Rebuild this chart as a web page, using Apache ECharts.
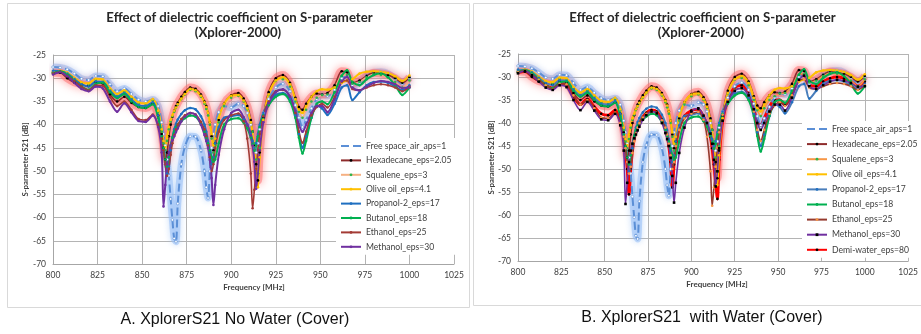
<!DOCTYPE html>
<html><head><meta charset="utf-8">
<script src="https://cdn.jsdelivr.net/npm/echarts@6/dist/echarts.min.js"></script>
<style>html,body{margin:0;padding:0;background:#fff}#c{width:921px;height:334px}</style>
</head><body><div id="c"></div>
<script>
// ---------------- data ----------------
const freq = [800,804,808,812,816,820,824,828,832,836,840,844,848,852,856,
  859,861,862,863,864,865,866,867,868,869,870,
  872,874,877,880,883,885,
  886,887,888,889,890,891,
  893,896,900,904,907,909,
  911,912,913,914,915,916,
  918,921,925,929,933,936,938,940,942,945,948,
  951,954,958,962,965,968,972,976,980,984,988,992,996,1000];

const freeSpace = [-27.6,-27.7,-28.1,-29.0,-30.1,-30.4,-29.5,-29.6,-31.3,-32.8,-32.2,-33.4,-34.6,-35.0,-34.6,
  -36.0,-39.5,-42.0,-44.5,-47.5,-51.0,-56.0,-60.5,-64.5,-65.2,-57.0,
  -48.5,-44.8,-42.5,-42.6,-45.5,-50.0,
  -53.5,-55.8,-50.0,-45.0,-42.0,-40.0,
  -37.3,-36.0,-36.3,-35.5,-36.0,-37.5,
  -40.0,-42.0,-44.5,-46.0,-44.0,-41.0,
  -37.5,-34.5,-32.0,-31.2,-32.8,-35.8,-38.5,-40.5,-39.0,-36.5,-34.5,
  -33.5,-33.8,-32.5,-30.0,-29.5,-31.5,-31.0,-29.5,-28.8,-28.6,-29.0,-30.2,-31.2,-30.0];

const hexadecane = [-28.8,-28.8,-30.0,-30.9,-31.3,-31.6,-30.8,-31.2,-33.5,-35.0,-34.0,-35.3,-36.2,-36.4,-35.5,
  -38.0,-42.0,-45.0,-47.5,-46.0,-42.5,-40.0,-38.3,-37.0,-36.0,-35.3,
  -34.0,-33.0,-32.0,-32.3,-33.5,-35.0,
  -36.0,-37.5,-39.5,-42.5,-45.5,-44.0,
  -39.0,-35.5,-33.7,-33.2,-34.4,-36.0,
  -39.0,-41.5,-44.5,-48.5,-52.0,-46.0,
  -38.5,-33.0,-30.0,-29.3,-31.0,-34.2,-36.2,-36.8,-35.5,-34.0,-33.3,
  -33.5,-33.2,-31.5,-28.5,-28.7,-31.0,-30.5,-29.5,-28.8,-29.0,-29.3,-30.0,-31.0,-29.8];

const squalene = [-28.7,-28.6,-29.0,-30.1,-31.1,-31.4,-30.4,-30.6,-32.5,-33.8,-32.9,-34.3,-35.5,-35.8,-34.8,
  -37.2,-41.5,-44.0,-45.5,-43.5,-41.0,-39.3,-38.2,-37.2,-36.4,-35.7,
  -34.5,-33.5,-32.5,-32.8,-34.0,-35.5,
  -36.6,-38.0,-40.0,-43.0,-46.0,-44.5,
  -39.5,-36.0,-34.2,-33.8,-35.0,-36.7,
  -39.5,-41.5,-44.0,-47.5,-50.5,-45.0,
  -38.8,-33.6,-30.6,-30.2,-31.8,-35.0,-37.2,-38.5,-36.8,-35.0,-34.2,
  -33.6,-33.5,-32.0,-29.5,-29.3,-31.2,-30.8,-29.8,-29.2,-29.3,-29.8,-30.8,-32.0,-30.5];

const oliveOil = [-28.5,-28.4,-28.8,-29.9,-30.9,-31.1,-30.1,-30.3,-32.2,-33.4,-32.6,-34.0,-35.2,-35.4,-34.5,
  -37.0,-41.0,-43.5,-44.8,-42.5,-40.5,-39.0,-38.0,-37.0,-36.3,-35.6,
  -34.4,-33.4,-32.3,-32.6,-33.8,-35.2,
  -36.2,-37.5,-39.5,-42.0,-44.5,-43.0,
  -38.5,-35.5,-33.8,-33.6,-34.8,-36.5,
  -39.5,-42.0,-45.0,-49.5,-53.5,-47.0,
  -39.0,-33.5,-30.5,-29.8,-31.3,-34.5,-36.8,-37.5,-36.0,-34.0,-32.8,
  -32.4,-32.5,-32.0,-31.0,-30.5,-30.2,-29.0,-28.6,-28.5,-28.6,-28.9,-29.6,-30.6,-29.4];

const propanol = [-28.4,-28.5,-29.0,-30.2,-31.3,-31.8,-30.7,-30.8,-32.7,-34.0,-33.2,-34.6,-35.8,-36.0,-35.2,
  -38.0,-42.5,-45.5,-48.5,-50.5,-49.0,-45.5,-42.8,-41.0,-39.8,-38.9,
  -37.7,-36.9,-36.4,-36.7,-38.2,-40.0,
  -41.5,-43.5,-46.0,-48.5,-47.0,-44.0,
  -40.5,-38.5,-38.2,-37.9,-38.8,-40.0,
  -42.0,-43.5,-45.0,-44.0,-42.0,-40.0,
  -37.5,-35.3,-33.6,-33.2,-34.5,-38.0,-42.0,-45.0,-42.5,-38.5,-36.0,
  -36.5,-37.9,-35.5,-32.0,-31.5,-34.7,-33.0,-31.5,-30.8,-30.7,-31.0,-31.8,-32.6,-31.5];

const butanol = [-29.0,-28.5,-29.2,-30.5,-31.8,-32.5,-31.2,-31.0,-33.0,-34.3,-33.4,-35.0,-36.2,-36.4,-35.6,
  -38.5,-42.5,-45.0,-47.5,-49.0,-47.0,-44.5,-42.8,-41.5,-40.6,-40.0,
  -39.2,-38.6,-38.0,-38.3,-39.8,-41.5,
  -42.8,-44.0,-45.5,-47.0,-48.0,-47.5,
  -44.0,-40.0,-38.8,-38.6,-39.6,-40.8,
  -42.8,-44.2,-45.6,-44.5,-42.5,-40.5,
  -38.0,-35.8,-34.0,-33.4,-35.0,-38.5,-42.8,-46.2,-43.5,-38.5,-35.5,
  -35.0,-35.6,-33.0,-29.5,-28.3,-30.8,-31.5,-30.2,-29.3,-29.0,-29.8,-31.5,-33.6,-32.0];

const ethanol = [-29.0,-28.6,-29.5,-30.6,-31.8,-32.6,-31.5,-31.6,-34.0,-36.0,-35.0,-36.8,-38.8,-39.0,-37.8,
  -40.0,-43.0,-45.5,-48.5,-51.0,-49.5,-46.5,-44.0,-42.3,-41.0,-40.0,
  -38.8,-38.0,-37.5,-37.8,-39.4,-41.0,
  -42.5,-44.5,-47.0,-50.0,-48.5,-45.0,
  -41.5,-39.0,-38.0,-37.6,-39.3,-43.0,
  -50.5,-58.0,-54.0,-49.5,-45.4,-42.0,
  -38.2,-35.0,-32.8,-32.5,-34.0,-37.5,-41.5,-43.9,-41.5,-38.0,-36.2,
  -35.5,-36.3,-34.0,-30.8,-30.5,-32.3,-32.6,-32.0,-31.5,-31.3,-31.5,-32.0,-32.8,-31.8];

const methanol = [-29.2,-28.7,-29.6,-31.0,-32.3,-32.8,-31.8,-32.2,-35.0,-37.2,-35.4,-37.3,-39.2,-39.4,-38.0,
  -40.5,-46.0,-57.6,-53.0,-48.5,-46.0,-44.5,-43.3,-42.5,-41.6,-40.8,
  -39.3,-38.3,-37.5,-37.9,-40.0,-42.2,
  -43.5,-45.0,-47.6,-51.5,-57.3,-53.0,
  -46.5,-41.0,-37.5,-36.8,-38.4,-40.0,
  -42.3,-44.5,-48.0,-53.8,-50.5,-45.5,
  -39.5,-35.4,-33.0,-32.4,-34.0,-37.0,-40.0,-41.5,-40.0,-37.5,-36.0,
  -36.0,-37.3,-34.5,-30.6,-29.7,-32.0,-32.6,-31.8,-31.0,-30.6,-30.8,-31.3,-32.1,-32.0];

const demiWater = [-29.0,-28.8,-29.8,-30.8,-31.8,-32.4,-31.4,-31.6,-34.2,-36.0,-34.8,-36.5,-38.0,-38.3,-37.2,
  -39.5,-43.0,-46.0,-50.0,-55.5,-50.0,-46.0,-43.5,-42.0,-40.8,-40.0,
  -38.7,-37.8,-37.2,-37.5,-39.2,-41.2,
  -42.8,-45.0,-48.5,-54.0,-49.0,-45.0,
  -41.0,-38.5,-37.3,-37.0,-38.6,-40.5,
  -43.0,-45.5,-49.0,-53.0,-56.5,-48.0,
  -39.5,-35.0,-32.3,-31.8,-33.6,-37.0,-39.5,-40.5,-39.0,-36.5,-35.0,
  -35.0,-36.0,-33.8,-30.0,-29.5,-31.8,-32.0,-31.0,-30.3,-30.0,-30.3,-31.0,-32.0,-31.0];

const xAxisRange = {min: 800, max: 1025, interval: 25};
const yAxisRange = {min: -70, max: -25, interval: 5};
const chartTitle = 'Effect of dielectric coefficient on S-parameter';
const chartSubtitle = '(Xplorer-2000)';
const xName = 'Frequency [MHz]';
const yName = 'S-parameter S21 [dB]';
const captionA = 'A. XplorerS21 No Water (Cover)';
const captionB = 'B. XplorerS21  with Water (Cover)';

// ---------------- styles ----------------
const FONT = 'Lato';
const FS_GLOW = {color:'rgba(150,190,245,0.55)', width:7, blur:6, shadow:'rgba(150,190,245,0.9)'};
const HX_GLOW = {color:'rgba(255,110,110,0.5)', width:8, blur:8, shadow:'rgba(255,70,70,1)'};
const seriesA = [
  {name:'Free space_air_aps=1', data:freeSpace, color:'#5b8fd6', dash:'dashed', width:2, mk:'#ffffff', mb:'#5b8fd6', halo:FS_GLOW},
  {name:'Hexadecane_eps=2.05', data:hexadecane, color:'#8e2b2b', width:1.6, mk:'#000000', halo:HX_GLOW},
  {name:'Squalene_eps=3', data:squalene, color:'#f6b183', width:1.6, mk:'#2fb34a'},
  {name:'Olive oil_eps=4.1', data:oliveOil, color:'#ffc000', width:2, mk:'#ffc000'},
  {name:'Propanol-2_eps=17', data:propanol, color:'#1f6fc0', width:2, mk:'#1f6fc0'},
  {name:'Butanol_eps=18', data:butanol, color:'#00b050', width:2, mk:'#00b050'},
  {name:'Ethanol_eps=25', data:ethanol, color:'#a33b35', width:1.6, mk:'#a33b35'},
  {name:'Methanol_eps=30', data:methanol, color:'#7030a0', width:2, mk:'#7030a0'}
];
const seriesB = [
  {name:'Free space_air_aps=1', data:freeSpace, color:'#5b8fd6', dash:'dashed', width:2, mk:'#ffffff', mb:'#5b8fd6', halo:FS_GLOW},
  {name:'Hexadecane_eps=2.05', data:hexadecane, color:'#8e2b2b', width:1.6, mk:'#000000', halo:HX_GLOW},
  {name:'Squalene_eps=3', data:squalene, color:'#f79646', width:1.6, mk:'#2fb34a'},
  {name:'Olive oil_eps=4.1', data:oliveOil, color:'#ffc000', width:2, mk:'#ffc000'},
  {name:'Propanol-2_eps=17', data:propanol, color:'#4a7ebb', width:2, mk:'#1f6fc0'},
  {name:'Butanol_eps=18', data:butanol, color:'#00b050', width:2, mk:'#00b050'},
  {name:'Ethanol_eps=25', data:ethanol, color:'#953a2e', width:1.6, mk:'#f79646'},
  {name:'Methanol_eps=30', data:methanol, color:'#7030a0', width:1.6, mk:'#000000', sym:'rect'},
  {name:'Demi-water_eps=80', data:demiWater, color:'#ff0000', width:3, mk:'#000000', z:1.5}
];

const panels = [
  {grid:{left:53, top:55, width:401, height:209}, list:seriesA, suffix:'', legend:{left:336, top:138, gap:4.4}},
  {grid:{left:518, top:54, width:399, height:207}, list:seriesB, suffix:' ', legend:{left:802, top:121, gap:5.1}}
];

const grids = [], xAxes = [], yAxes = [], series = [], legends = [];
panels.forEach((p, gi) => {
  grids.push(Object.assign({containLabel:false, show:false}, p.grid));
  xAxes.push(Object.assign({type:'value', gridIndex:gi,
    axisLine:{show:true, lineStyle:{color:'#a6a6a6'}}, axisTick:{show:false},
    splitLine:{show:true, lineStyle:{color:'#b4b4b4', width:1}},
    axisLabel:{fontSize:8.5, color:'#404040', fontFamily:FONT, margin:7, formatter: v => String(v)}}, xAxisRange));
  yAxes.push(Object.assign({type:'value', gridIndex:gi,
    axisLine:{show:true, lineStyle:{color:'#a6a6a6'}}, axisTick:{show:false},
    splitLine:{show:true, lineStyle:{color:'#b4b4b4', width:1}},
    axisLabel:{fontSize:8.5, color:'#404040', fontFamily:FONT, margin:7, formatter: v => String(v)}}, yAxisRange));
  const names = [];
  p.list.forEach((s, si) => {
    const nm = s.name + p.suffix;
    names.push(nm);
    const pts = freq.map((f, i) => [f, s.data[i]]);
    if (s.halo) {
      // soft glow underneath the line (Excel "glow" effect)
      series.push({
        type:'line', name:'glow-' + gi + '-' + si, xAxisIndex:gi, yAxisIndex:gi, data:pts,
        smooth:0.3, showSymbol:false, silent:true, z:1,
        lineStyle:{color:s.halo.color, width:s.halo.width, shadowBlur:s.halo.blur, shadowColor:s.halo.shadow},
        emphasis:{disabled:true}, animation:false, tooltip:{show:false}
      });
    }
    series.push({
      type:'line', name:nm, xAxisIndex:gi, yAxisIndex:gi, data:pts,
      smooth:0.3, showSymbol:true, symbol:s.sym || 'circle', symbolSize:2.6, z: s.z || 2,
      lineStyle:{color:s.color, width:s.width, type:s.dash || 'solid'},
      itemStyle:{color:s.mk, borderColor:s.mb || s.mk, borderWidth: s.mb ? 0.6 : 0},
      emphasis:{disabled:true}, animation:false
    });
  });
  legends.push({
    data:names, orient:'vertical', left:p.legend.left, top:p.legend.top,
    itemWidth:20, itemHeight:3.5, itemGap:p.legend.gap, padding:[3,4],
    backgroundColor:'#ffffff', selectedMode:false,
    formatter: n => n.trim(),
    textStyle:{fontSize:8.6, color:'#404040', fontFamily:FONT, lineHeight:10},
    lineStyle:{shadowBlur:0, shadowColor:'transparent'},
    itemStyle:{borderWidth:0}
  });
});

const titleFont = 'bold 13.2px ' + FONT;
const graphic = [
  {type:'rect', shape:{x:7.5, y:3.5, width:462, height:304}, style:{fill:'none', stroke:'#d9d9d9', lineWidth:1}, z:-10},
  {type:'rect', shape:{x:473.5, y:3.5, width:460, height:302}, style:{fill:'none', stroke:'#d9d9d9', lineWidth:1}, z:-10},
  {type:'text', x:239.5, y:18, style:{text:chartTitle, font:titleFont, fill:'#262626', align:'center', verticalAlign:'middle'}},
  {type:'text', x:238, y:33, style:{text:chartSubtitle, font:titleFont, fill:'#262626', align:'center', verticalAlign:'middle'}},
  {type:'text', x:702.5, y:18, style:{text:chartTitle, font:titleFont, fill:'#262626', align:'center', verticalAlign:'middle'}},
  {type:'text', x:701, y:33, style:{text:chartSubtitle, font:titleFont, fill:'#262626', align:'center', verticalAlign:'middle'}},
  {type:'text', x:254, y:287, style:{text:xName, font:'bold 8px ' + FONT, fill:'#404040', align:'center', verticalAlign:'middle'}},
  {type:'text', x:717, y:284, style:{text:xName, font:'bold 8px ' + FONT, fill:'#404040', align:'center', verticalAlign:'middle'}},
  {type:'text', x:25, y:159.5, rotation:Math.PI/2, style:{text:yName, font:'bold 7.8px ' + FONT, fill:'#404040', align:'center', verticalAlign:'middle'}},
  {type:'text', x:491, y:157.5, rotation:Math.PI/2, style:{text:yName, font:'bold 7.8px ' + FONT, fill:'#404040', align:'center', verticalAlign:'middle'}},
  {type:'text', x:235, y:320, style:{text:captionA, font:'16px "Liberation Sans", Arial, sans-serif', fill:'#111', align:'center', verticalAlign:'middle'}},
  {type:'text', x:702, y:318, style:{text:captionB, font:'16px "Liberation Sans", Arial, sans-serif', fill:'#111', align:'center', verticalAlign:'middle'}}
];

const chart = echarts.init(document.getElementById('c'), null, {renderer:'canvas'});
chart.setOption({
  backgroundColor:'#ffffff', animation:false,
  grid:grids, xAxis:xAxes, yAxis:yAxes, series:series, legend:legends, graphic:graphic
});
</script></body></html>
